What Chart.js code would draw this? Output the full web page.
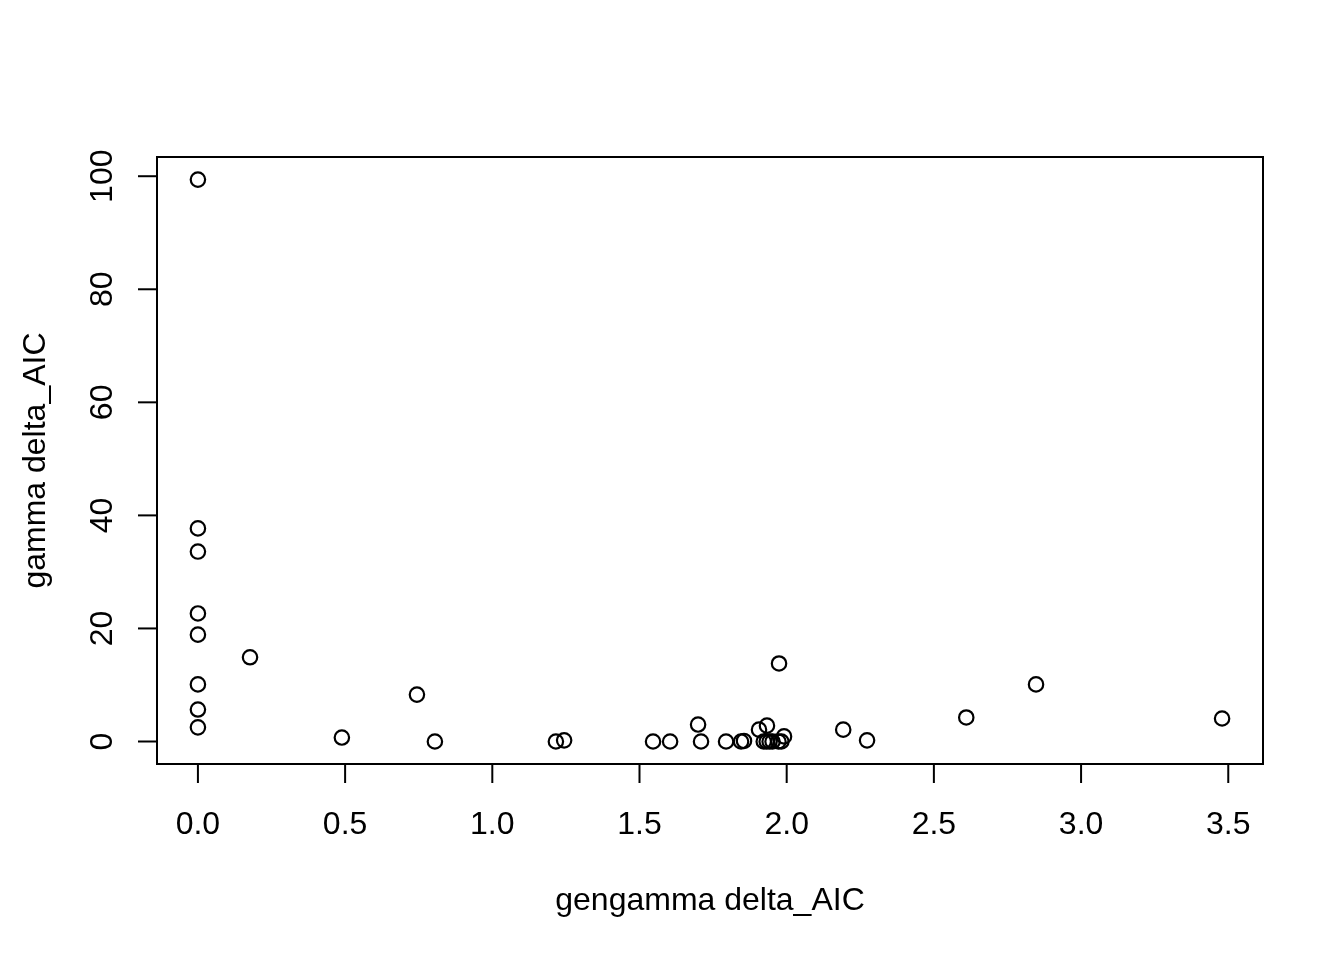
<!DOCTYPE html>
<html lang="en">
<head>
    <meta charset="UTF-8">
    <title>gengamma vs gamma delta_AIC</title>
    <script src="https://cdn.jsdelivr.net/npm/chart.js"></script>
    <style>
        html, body { margin: 0; padding: 0; background: #fff; }
        canvas { display: block; }
    </style>
</head>
<body>
    <canvas id="aicChart" width="1344" height="960"></canvas>
    <script>
        // values
        const gengammaAIC = [0, 0, 0, 0, 0, 0, 0, 0,
            0.177, 0.489, 0.744, 0.805, 1.216, 1.244, 1.546, 1.604, 1.699, 1.709,
            1.794, 1.845, 1.855, 1.906, 1.933, 1.922, 1.932, 1.942, 1.952, 1.972,
            1.982, 1.974, 1.991, 2.192, 2.273, 2.61, 2.847, 3.479];
        const gammaAIC = [99.4, 37.7, 33.6, 22.65, 18.9, 10.1, 5.66, 2.5,
            14.9, 0.7, 8.3, 0, 0, 0.2, 0, 0, 3.0, 0,
            0, 0, 0.1, 2.1, 2.8, 0, 0, 0, 0, 0,
            0, 13.8, 0.9, 2.1, 0.2, 4.25, 10.1, 4.07];

        const xTicks = [0, 0.5, 1, 1.5, 2, 2.5, 3, 3.5];
        const xTickLabels = ['0.0', '0.5', '1.0', '1.5', '2.0', '2.5', '3.0', '3.5'];
        const yTicks = [0, 20, 40, 60, 80, 100];
        const yTickLabels = ['0', '20', '40', '60', '80', '100'];

        const xTitle = 'gengamma delta_AIC';
        const yTitle = 'gamma delta_AIC';

        const FONT = '32px "Liberation Sans", Arial, sans-serif';

        // R-style box, ticks and labels
        const baseAxesPlugin = {
            id: 'baseAxes',
            afterDraw: (chart) => {
                const ctx = chart.ctx;
                const area = chart.chartArea;
                const xs = chart.scales.x;
                const ys = chart.scales.y;
                const tick = 19;

                ctx.save();
                ctx.strokeStyle = '#000';
                ctx.fillStyle = '#000';
                ctx.lineWidth = 2;
                ctx.strokeRect(area.left, area.top, area.right - area.left, area.bottom - area.top);

                ctx.font = FONT;

                // x axis
                ctx.textAlign = 'center';
                ctx.textBaseline = 'alphabetic';
                xTicks.forEach((v, i) => {
                    const px = xs.getPixelForValue(v);
                    ctx.beginPath();
                    ctx.moveTo(px, area.bottom);
                    ctx.lineTo(px, area.bottom + tick);
                    ctx.stroke();
                    ctx.fillText(xTickLabels[i], px, area.bottom + 70);
                });

                // y axis, labels turned like R's las=0
                yTicks.forEach((v, i) => {
                    const py = ys.getPixelForValue(v);
                    ctx.beginPath();
                    ctx.moveTo(area.left, py);
                    ctx.lineTo(area.left - tick, py);
                    ctx.stroke();
                    ctx.save();
                    ctx.translate(area.left - 45, py);
                    ctx.rotate(-Math.PI / 2);
                    ctx.fillText(yTickLabels[i], 0, 0);
                    ctx.restore();
                });

                // titles
                ctx.fillText(xTitle, (area.left + area.right) / 2, area.bottom + 146);
                ctx.save();
                ctx.translate(45, (area.top + area.bottom) / 2);
                ctx.rotate(-Math.PI / 2);
                ctx.fillText(yTitle, 0, 0);
                ctx.restore();

                ctx.restore();
            }
        };

        const points = gengammaAIC.map((x, i) => ({ x: x, y: gammaAIC[i] }));

        const ctx = document.getElementById('aicChart').getContext('2d');
        const aicChart = new Chart(ctx, {
            type: 'scatter',
            data: {
                datasets: [{
                    label: 'delta_AIC',
                    data: points,
                    pointStyle: 'circle',
                    pointRadius: 7.2,
                    pointHoverRadius: 7.2,
                    borderColor: '#000',
                    backgroundColor: 'rgba(0,0,0,0)',
                    borderWidth: 2.2,
                    pointBorderWidth: 2.2,
                    clip: false
                }]
            },
            options: {
                responsive: false,
                maintainAspectRatio: false,
                devicePixelRatio: 1,
                animation: false,
                events: [],
                layout: {
                    padding: { left: 157, right: 81, top: 157, bottom: 196 }
                },
                scales: {
                    x: { type: 'linear', min: -0.139, max: 3.618, display: false },
                    y: { type: 'linear', min: -3.98, max: 103.4, display: false }
                },
                plugins: {
                    legend: { display: false },
                    tooltip: { enabled: false }
                }
            },
            plugins: [baseAxesPlugin]
        });
    </script>
</body>
</html>
